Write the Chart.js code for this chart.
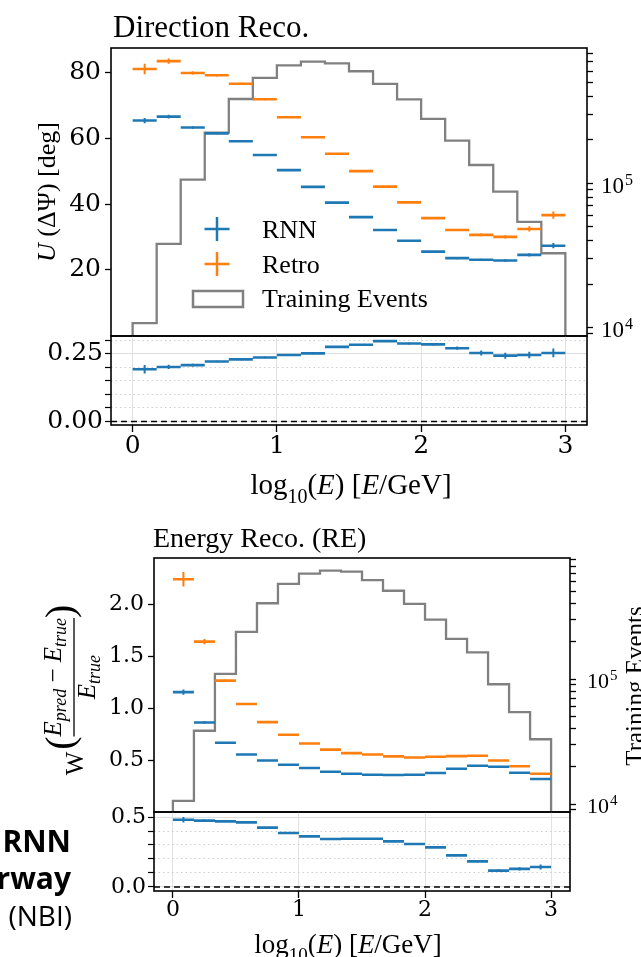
<!DOCTYPE html>
<html>
<head>
<meta charset="utf-8">
<title>Direction and energy reconstruction</title>
<script src="https://cdn.jsdelivr.net/npm/chart.js@4.4.1/dist/chart.umd.min.js"></script>
<style>
  html, body { margin: 0; padding: 0; background: #fff; }
  #page { position: relative; width: 641px; height: 957px; overflow: hidden; background: #fff; }
  #page canvas { position: absolute; left: 0; top: 0; }
</style>
</head>
<body>
<div id="page">
  <canvas id="dirMain" width="641" height="957"></canvas>
  <canvas id="dirRatio" width="641" height="957"></canvas>
  <canvas id="enMain" width="641" height="957"></canvas>
  <canvas id="enRatio" width="641" height="957"></canvas>
</div>
<script>
// bins in log10(E / GeV)
var binEdges = [0, 0.1667, 0.3333, 0.5, 0.6667, 0.8333, 1, 1.1667, 1.3333, 1.5, 1.6667, 1.8333, 2, 2.1667, 2.3333, 2.5, 2.6667, 2.8333, 3];
var seriesNames = ['RNN', 'Retro', 'Training Events'];

// direction reco, U(dPsi) in deg
var dirRnn = [65.5, 66.7, 63.4, 61.6, 59.2, 55.0, 50.4, 45.3, 40.5, 36.1, 32.2, 28.9, 25.6, 23.6, 23.1, 22.9, 24.6, 27.4];
var dirRnnErr = [0.8, 0.6, 0.4, 0.3, 0.2, 0.2, 0.2, 0.2, 0.2, 0.2, 0.2, 0.2, 0.2, 0.3, 0.3, 0.4, 0.5, 0.8];
var dirRetro = [81.2, 83.6, 80.0, 79.3, 76.7, 72.0, 66.5, 60.4, 55.4, 50.1, 45.4, 40.6, 35.8, 32.2, 30.7, 30.1, 32.5, 36.7];
var dirRetroErr = [1.6, 0.8, 0.5, 0.4, 0.3, 0.3, 0.2, 0.2, 0.2, 0.2, 0.2, 0.2, 0.3, 0.3, 0.4, 0.5, 0.8, 1.1];
var dirEvents = [10700, 38000, 106000, 225000, 385000, 540000, 660000, 700000, 680000, 600000, 490000, 383000, 280000, 198000, 134000, 87500, 54000, 32700];
var dirRatio = [0.1925, 0.201, 0.2075, 0.221, 0.229, 0.236, 0.245, 0.251, 0.275, 0.2825, 0.296, 0.2875, 0.284, 0.27, 0.2525, 0.2425, 0.245, 0.2525];
var dirRatioErr = [0.016, 0.008, 0.005, 0.003, 0.003, 0.003, 0.003, 0.003, 0.003, 0.003, 0.003, 0.004, 0.004, 0.006, 0.009, 0.011, 0.012, 0.016];

// energy reco, W((Epred - Etrue) / Etrue)
var enRnn = [1.154, 0.862, 0.667, 0.554, 0.496, 0.455, 0.423, 0.387, 0.368, 0.359, 0.356, 0.359, 0.375, 0.416, 0.445, 0.435, 0.378, 0.317];
var enRnnErr = [0.025, 0.012, 0.006, 0.004, 0.003, 0.003, 0.003, 0.003, 0.003, 0.003, 0.003, 0.003, 0.003, 0.004, 0.004, 0.005, 0.006, 0.008];
var enRetro = [2.24, 1.64, 1.265, 1.04, 0.865, 0.743, 0.66, 0.6, 0.567, 0.554, 0.535, 0.525, 0.532, 0.538, 0.541, 0.496, 0.44, 0.368];
var enRetroErr = [0.07, 0.025, 0.01, 0.006, 0.004, 0.003, 0.003, 0.003, 0.003, 0.003, 0.003, 0.003, 0.003, 0.004, 0.004, 0.005, 0.006, 0.008];
var enEvents = [10600, 38600, 110000, 239000, 405000, 578000, 700000, 740000, 725000, 620000, 510000, 400000, 300000, 210000, 164000, 91000, 54500, 33000];
var enRatio = [0.481, 0.474, 0.469, 0.462, 0.424, 0.386, 0.362, 0.343, 0.345, 0.345, 0.326, 0.307, 0.283, 0.226, 0.183, 0.117, 0.129, 0.143];
var enRatioErr = [0.02, 0.008, 0.005, 0.004, 0.004, 0.004, 0.004, 0.004, 0.004, 0.004, 0.004, 0.004, 0.004, 0.005, 0.006, 0.01, 0.012, 0.018];

// axis ticks
var xTicks = [0, 1, 2, 3];
var dirYTicks = [20, 40, 60, 80];
var enYTicks = [0.5, 1.0, 1.5, 2.0];
var dirRatioMajor = [0, 0.25];
var dirRatioMinor = [0.05, 0.1, 0.15, 0.2, 0.3];
var enRatioMajor = [0, 0.5];
var enRatioMinor = [0.1, 0.2, 0.3, 0.4];
var logMajor = [10000, 100000];
var logTicks = [9000, 10000, 20000, 30000, 40000, 50000, 60000, 70000, 80000, 90000,
  100000, 200000, 300000, 400000, 500000, 600000, 700000, 800000, 900000];

var W = 641, H = 957;
var xMin = -0.15, xMax = 3.15;
var blue = '#1f77b4', orange = '#ff7f0e', grey = '#808080';
var serif = '"Liberation Serif", "Times New Roman", serif';
var tickSerif = '"DejaVu Serif", serif';
var sans = '"Open Sans", "Noto Sans", sans-serif';

Chart.defaults.font.family = tickSerif;

function segData(vals) {
  var pts = [];
  for (var i = 0; i < vals.length; i++) {
    pts.push({x: binEdges[i], y: vals[i]}, {x: binEdges[i + 1], y: vals[i]}, {x: binEdges[i + 1], y: null});
  }
  return pts;
}
function errData(vals, errs) {
  var pts = [];
  for (var i = 0; i < vals.length; i++) {
    var c = (binEdges[i] + binEdges[i + 1]) / 2;
    pts.push({x: c, y: vals[i] - errs[i]}, {x: c, y: vals[i] + errs[i]}, {x: c, y: null});
  }
  return pts;
}
function stepData(counts, floor) {
  var pts = [{x: binEdges[0], y: floor}];
  for (var i = 0; i < counts.length; i++) {
    pts.push({x: binEdges[i], y: counts[i]}, {x: binEdges[i + 1], y: counts[i]});
  }
  pts.push({x: binEdges[counts.length], y: floor});
  return pts;
}
function lineSet(label, color, data, width, axis) {
  return {label: label, data: data, borderColor: color, borderWidth: width, pointRadius: 0,
    fill: false, spanGaps: false, yAxisID: axis || 'y'};
}
function useTicks(list) {
  return function (s) {
    s.ticks = list.filter(function (v) { return v >= s.min && v <= s.max; })
      .map(function (v) { return {value: v}; });
  };
}
function fixY(w) {
  return function (s) { s.width = w; s.paddingTop = 0; s.paddingBottom = 0; };
}
function fixX(h) {
  return function (s) { s.height = h; s.paddingLeft = 0; s.paddingRight = 0; };
}
function fnt(size, style) { return (style ? style + ' ' : '') + size + 'px ' + serif; }
function runsWidth(ctx, runs) {
  var w = 0;
  runs.forEach(function (r) { ctx.font = r.font; w += ctx.measureText(r.t).width; });
  return w;
}
function drawRuns(ctx, runs, x, y) {
  runs.forEach(function (r) {
    ctx.font = r.font;
    ctx.fillText(r.t, x, y + (r.dy || 0));
    x += ctx.measureText(r.t).width;
  });
  return x;
}
function xTitleRuns(size) {
  var sub = Math.round(size * 0.7);
  return [
    {t: 'log', font: fnt(size)}, {t: '10', font: fnt(sub), dy: size * 0.3},
    {t: '(', font: fnt(size)}, {t: 'E', font: fnt(size, 'italic')}, {t: ') [', font: fnt(size)},
    {t: 'E', font: fnt(size, 'italic')}, {t: '/GeV]', font: fnt(size)}
  ];
}
function logLabels(chart, x, size) {
  var ctx = chart.ctx, s = chart.scales.y2;
  ctx.textAlign = 'left';
  ctx.textBaseline = 'alphabetic';
  logMajor.forEach(function (v) {
    if (v < s.min || v > s.max) { return; }
    var y = s.getPixelForValue(v);
    ctx.font = fnt(size);
    ctx.fillText('10', x, y + size * 0.42);
    var w = ctx.measureText('10').width;
    ctx.font = fnt(Math.round(size * 0.7));
    ctx.fillText(String(Math.round(Math.log10(v))), x + w + 1, y + size * 0.06);
  });
}
function cross(ctx, x, y, color) {
  ctx.strokeStyle = color;
  ctx.lineWidth = 2.5;
  ctx.beginPath();
  ctx.moveTo(x - 12.5, y); ctx.lineTo(x + 12.5, y);
  ctx.moveTo(x, y - 12); ctx.lineTo(x, y + 12);
  ctx.stroke();
}

var framePlugin = {
  id: 'frame',
  afterDatasetsDraw: function (chart) {
    var a = chart.chartArea, ctx = chart.ctx;
    ctx.save();
    ctx.strokeStyle = '#000';
    ctx.lineWidth = 1.6;
    ctx.strokeRect(a.left, a.top, a.right - a.left, a.bottom - a.top);
    ctx.restore();
  }
};

function mainPanel(id, p) {
  var datasets = [
    lineSet(seriesNames[0], blue, segData(p.rnn), 2.6),
    lineSet(seriesNames[0], blue, errData(p.rnn, p.rnnErr), 2),
    lineSet(seriesNames[1], orange, segData(p.retro), 2.6),
    lineSet(seriesNames[1], orange, errData(p.retro, p.retroErr), 2),
    lineSet(seriesNames[2], grey, stepData(p.events, 1000), 2.3, 'y2')
  ];
  return new Chart(document.getElementById(id), {
    type: 'line',
    data: {datasets: datasets},
    options: {
      responsive: false,
      animation: false,
      events: [],
      layout: {padding: {left: 0, right: 0, top: p.area.top, bottom: H - p.area.bottom}},
      plugins: {legend: {display: false}, tooltip: {enabled: false}},
      scales: {
        x: {type: 'linear', display: false, min: xMin, max: xMax},
        y: {
          position: 'left', min: p.yMin, max: p.yMax,
          afterBuildTicks: useTicks(p.yTicks), afterFit: fixY(p.area.left),
          ticks: {autoSkip: false, color: '#000', padding: 4, font: {size: p.fontSize, lineHeight: 1},
            callback: function (v) { return v.toFixed(p.dec); }},
          grid: {drawOnChartArea: false, tickLength: 6, tickColor: '#000', tickWidth: 1.3},
          border: {display: false}
        },
        y2: {
          type: 'logarithmic', position: 'right', min: p.logMin, max: p.logMax,
          afterBuildTicks: useTicks(logTicks), afterFit: fixY(W - p.area.right),
          ticks: {autoSkip: false, callback: function () { return ''; }},
          grid: {drawOnChartArea: false, tickLength: 6, tickColor: '#000', tickWidth: 1.3},
          border: {display: false}
        }
      }
    },
    plugins: [framePlugin, {id: 'deco', afterDraw: function (chart) {
      var ctx = chart.ctx;
      ctx.save();
      ctx.fillStyle = '#000';
      p.deco(chart, ctx);
      ctx.restore();
    }}]
  });
}

function ratioPanel(id, p) {
  var zero = lineSet('zero', '#000', [{x: xMin, y: 0}, {x: xMax, y: 0}], 1.5);
  zero.borderDash = [6, 4];
  var datasets = [
    lineSet(seriesNames[0], blue, segData(p.ratio), 2.6),
    lineSet(seriesNames[0], blue, errData(p.ratio, p.ratioErr), 2),
    zero
  ];
  var xh = 60;
  function isMajor(v) { return p.major.indexOf(v) >= 0; }
  return new Chart(document.getElementById(id), {
    type: 'line',
    data: {datasets: datasets},
    options: {
      responsive: false,
      animation: false,
      events: [],
      layout: {padding: {left: 0, right: W - p.area.right, top: p.area.top, bottom: H - p.area.bottom - xh}},
      plugins: {legend: {display: false}, tooltip: {enabled: false}},
      scales: {
        x: {
          type: 'linear', min: xMin, max: xMax,
          afterBuildTicks: useTicks(xTicks), afterFit: fixX(xh),
          ticks: {autoSkip: false, maxRotation: 0, color: '#000', padding: p.xPad, font: {size: p.fontSize, lineHeight: 1},
            callback: function (v) { return String(v); }},
          grid: {color: '#e2e2e2', lineWidth: 1, tickLength: 7, tickColor: '#000', tickWidth: 1.3},
          border: {display: false}
        },
        y: {
          min: p.yMin, max: p.yMax,
          afterBuildTicks: useTicks(p.major.concat(p.minor)), afterFit: fixY(p.area.left),
          ticks: {autoSkip: false, color: '#000', padding: 2, font: {size: p.fontSize, lineHeight: 1},
            callback: function (v) { return isMajor(v) ? v.toFixed(p.dec) : ''; }},
          grid: {
            color: function (c) { return isMajor(c.tick.value) ? '#dedede' : '#cfcfcf'; },
            lineWidth: 1, tickLength: 6, tickColor: '#000', tickWidth: 1.2
          },
          border: {display: false, dash: function (c) { return isMajor(c.tick.value) ? [] : [1.5, 3]; }}
        }
      }
    },
    plugins: [framePlugin, {id: 'deco', afterDraw: function (chart) {
      var ctx = chart.ctx;
      ctx.save();
      ctx.fillStyle = '#000';
      ctx.textAlign = 'left';
      ctx.textBaseline = 'alphabetic';
      var runs = xTitleRuns(p.titleSize);
      var w = runsWidth(ctx, runs);
      drawRuns(ctx, runs, p.titleX - w / 2, p.titleY);
      if (p.deco) { p.deco(chart, ctx); }
      ctx.restore();
    }}]
  });
}

mainPanel('dirMain', {
  area: {left: 111, right: 587, top: 48, bottom: 336},
  rnn: dirRnn, rnnErr: dirRnnErr, retro: dirRetro, retroErr: dirRetroErr, events: dirEvents,
  yMin: -0.1, yMax: 87.6, yTicks: dirYTicks, dec: 0, fontSize: 25,
  logMin: 8710, logMax: 870000,
  deco: function (chart, ctx) {
    ctx.textAlign = 'left';
    ctx.textBaseline = 'alphabetic';
    ctx.font = fnt(31);
    ctx.fillText('Direction Reco.', 113, 37);
    // left axis title
    ctx.save();
    ctx.translate(55, 192);
    ctx.rotate(-Math.PI / 2);
    var runs = [{t: 'U', font: fnt(26, 'italic')}, {t: ' (\u0394\u03a8) [deg]', font: fnt(26)}];
    drawRuns(ctx, runs, -runsWidth(ctx, runs) / 2, 0);
    ctx.restore();
    logLabels(chart, 601, 23);
    // legend
    cross(ctx, 217, 229, blue);
    cross(ctx, 217, 264, orange);
    ctx.strokeStyle = grey;
    ctx.lineWidth = 2.5;
    ctx.strokeRect(193, 291, 50, 16);
    ctx.font = fnt(26);
    var rows = [238, 273, 307];
    seriesNames.forEach(function (n, i) { ctx.fillText(n, 262, rows[i]); });
  }
});

ratioPanel('dirRatio', {
  area: {left: 111, right: 587, top: 336, bottom: 425},
  ratio: dirRatio, ratioErr: dirRatioErr,
  yMin: -0.013, yMax: 0.315, major: dirRatioMajor, minor: dirRatioMinor, dec: 2,
  fontSize: 25, xPad: 2, titleSize: 29, titleX: 351, titleY: 494
});

mainPanel('enMain', {
  area: {left: 154, right: 570, top: 558, bottom: 812},
  rnn: enRnn, rnnErr: enRnnErr, retro: enRetro, retroErr: enRetroErr, events: enEvents,
  yMin: 0, yMax: 2.445, yTicks: enYTicks, dec: 1, fontSize: 22,
  logMin: 8630, logMax: 933000,
  deco: function (chart, ctx) {
    ctx.textAlign = 'left';
    ctx.textBaseline = 'alphabetic';
    ctx.font = fnt(28);
    ctx.fillText('Energy Reco. (RE)', 153, 547);
    logLabels(chart, 587, 22);
    // right axis title
    ctx.save();
    ctx.translate(643, 686);
    ctx.rotate(-Math.PI / 2);
    ctx.font = fnt(25);
    ctx.textAlign = 'center';
    ctx.fillText(seriesNames[2], 0, 0);
    ctx.restore();
    // left axis title W((Epred - Etrue) / Etrue)
    ctx.save();
    ctx.translate(0, 690);
    ctx.rotate(-Math.PI / 2);
    // rotated frame: x runs upward on screen, y runs right on screen
    ctx.textAlign = 'left';
    var big = 25, sub = 18;
    var num = [
      {t: 'E', font: fnt(big, 'italic')}, {t: 'pred', font: fnt(sub, 'italic'), dy: 5},
      {t: ' \u2212 ', font: fnt(big)},
      {t: 'E', font: fnt(big, 'italic')}, {t: 'true', font: fnt(sub, 'italic'), dy: 5}
    ];
    var den = [{t: 'E', font: fnt(big, 'italic')}, {t: 'true', font: fnt(sub, 'italic'), dy: 5}];
    ctx.font = fnt(25);
    var wW = ctx.measureText('W').width;
    ctx.font = fnt(40);
    var wP = ctx.measureText('(').width;
    var wNum = runsWidth(ctx, num), wDen = runsWidth(ctx, den);
    var total = wW + 2 + wP + wNum + wP;
    var u = -total / 2;
    ctx.font = fnt(25);
    ctx.fillText('W', u, 83);
    u += wW + 2;
    ctx.font = '300 40px ' + serif;
    ctx.fillText('(', u, 73);
    u += wP;
    drawRuns(ctx, num, u, 61);
    ctx.strokeStyle = '#000';
    ctx.lineWidth = 1.3;
    ctx.beginPath();
    ctx.moveTo(u, 74); ctx.lineTo(u + wNum, 74);
    ctx.stroke();
    drawRuns(ctx, den, u + (wNum - wDen) / 2, 95);
    u += wNum;
    ctx.font = '300 40px ' + serif;
    ctx.fillText(')', u, 73);
    ctx.restore();
  }
});

ratioPanel('enRatio', {
  area: {left: 154, right: 570, top: 812, bottom: 891},
  ratio: enRatio, ratioErr: enRatioErr,
  yMin: -0.029, yMax: 0.536, major: enRatioMajor, minor: enRatioMinor, dec: 1,
  fontSize: 22, xPad: 1, titleSize: 27, titleX: 348, titleY: 953,
  deco: function (chart, ctx) {
    // text cut off at the left edge of the source picture
    ctx.textAlign = 'right';
    ctx.font = 'bold 30px ' + sans;
    ctx.fillText('RNN', 71, 852);
    ctx.fillText('rway', 71, 889);
    ctx.font = '28px ' + sans;
    ctx.fillText('(NBI)', 72, 926);
  }
});
</script>
</body>
</html>
